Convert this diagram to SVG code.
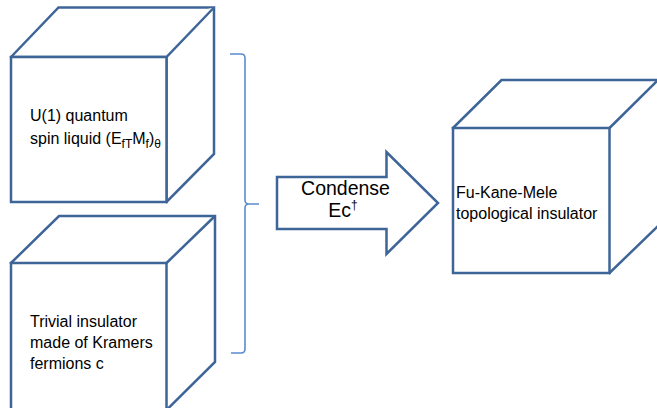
<svg xmlns="http://www.w3.org/2000/svg" width="657" height="408" viewBox="0 0 657 408">
<style>
.cube{fill:#ffffff;stroke:#3e6597;stroke-width:2.5;stroke-linejoin:miter}
.t{font-family:"Liberation Sans",Arial,sans-serif;font-size:16px;fill:#000000}
.sub{font-size:12px}
.big{font-family:"Liberation Sans",Arial,sans-serif;font-size:19.5px;fill:#000000;text-anchor:middle}
.brace{fill:none;stroke:#5b8bd0;stroke-width:1.6}
.arrow{fill:#ffffff;stroke:#3e6597;stroke-width:2.5;stroke-linejoin:miter}
</style>
<rect width="657" height="408" fill="#ffffff"/>
<g id="node-spin-liquid">
<path class="cube" d="M11,57 L58.5,7.5 L214,7.5 L214,154 L166.5,202 Z"/>
<path class="cube" d="M11,57 L166.5,57 L214,7.5 M166.5,57 L166.5,202"/>
<rect class="cube" x="11" y="57" width="155.5" height="145"/>
<text class="t" x="30" y="121">U(1) quantum</text>
<text class="t" x="30" y="144">spin liquid (E<tspan class="sub" dy="4">fT</tspan><tspan dy="-4">M</tspan><tspan class="sub" dy="4">f</tspan><tspan dy="-4">)</tspan><tspan class="sub" dy="4">θ</tspan></text>
</g>
<g id="node-trivial-insulator">
<path class="cube" d="M11,263 L59,216 L215,216 L215,362 L166.5,410 Z"/>
<path class="cube" d="M166.5,263 L215,216"/>
<rect class="cube" x="11" y="263" width="155.5" height="148"/>
<text class="t" x="30" y="327">Trivial insulator</text>
<text class="t" x="30" y="348">made of Kramers</text>
<text class="t" x="30" y="369">fermions c</text>
</g>
<g id="node-fkm">
<path class="cube" d="M453,128 L501.5,80 L659,80 L659,225 L609.5,273 Z"/>
<path class="cube" d="M609.5,128 L658,80"/>
<rect class="cube" x="453" y="128" width="156.5" height="145"/>
<text class="t" x="456" y="198">Fu-Kane-Mele</text>
<text class="t" x="456" y="219">topological insulator</text>
</g>
<g id="connectors">
<path class="brace" d="M230,54 L241,54 Q245,54 245,58 L245,200 Q245,204 249,204 L259,204 M249,204 Q245,204 245,208 L245,349 Q245,353 241,353 L231,353"/>
<g id="condense-arrow">
<path class="arrow" d="M277,177 L386.5,177 L386.5,152 L438,203 L386.5,254 L386.5,229 L277,229 Z"/>
<text class="big" x="345.5" y="195">Condense</text>
<text class="big" x="343" y="217">Ec<tspan font-size="12" dy="-8">†</tspan></text>
</g>
</g>
</svg>
